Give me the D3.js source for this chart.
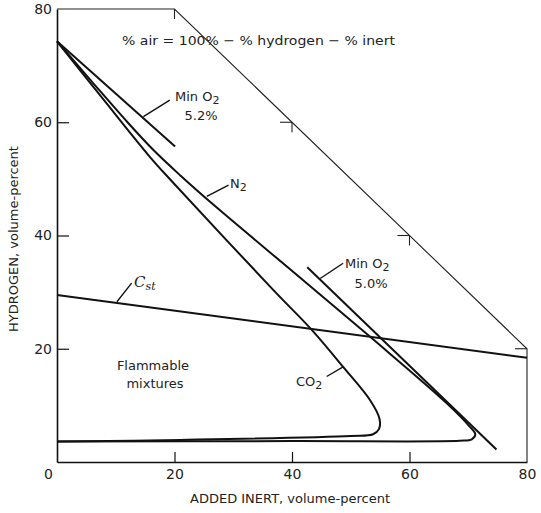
<!DOCTYPE html>
<html>
<head>
<meta charset="utf-8">
<script src="https://cdn.jsdelivr.net/npm/d3@7"></script>
<style>
  body { margin: 0; background: #fff; }
  svg { display: block; font-family: "DejaVu Sans", sans-serif; }
</style>
</head>
<body>
<svg id="chart" width="541" height="513"></svg>
<script>

// valores (inerte %, hidrogeno %)
var curvaN2 = [[0,74.3],[6,67.1],[12,60.0],[16.5,55.0],[21,50.6],[26,46.0],[41.9,32.1],[53.3,22.1],
  [66.3,10.4],[70.2,6.3],[71.2,4.9],[70.6,4.0],[68.5,3.75],[40,3.7],[0,3.6]];
var curvaCO2 = [[0,74.3],[8,63.9],[15.8,53.9],[19.7,49.4],[36.8,30.4],[43.4,23.3],[48.7,16.8],
  [53.3,10.9],[54.9,7.6],[54.8,5.8],[53.8,4.9],[50,4.6],[21,3.9],[0,3.6]];
var minO2_52 = [[0,74.3],[20.1,55.7]];
var minO2_50 = [[42.6,34.4],[74.8,2.2]];
var lineaCst = [[0,29.5],[80,18.4]];
var limiteAire = [[0,80],[20,80],[80,20],[80,0]];
var marcasLimite = [[20,80],[40,60],[60,40],[80,20]];

var ticksX = [0,20,40,60,80];
var ticksY = [20,40,60,80];

var svg = d3.select('#chart');

var x = d3.scaleLinear().domain([0,80]).range([57,527]);
var y = d3.scaleLinear().domain([0,80]).range([462,9]);

var linea = d3.line()
  .x(function(d){ return x(d[0]); })
  .y(function(d){ return y(d[1]); });

var curva = d3.line()
  .x(function(d){ return x(d[0]); })
  .y(function(d){ return y(d[1]); })
  .curve(d3.curveCatmullRom.alpha(0.5));

// limite % aire = 0
svg.append('path')
  .attr('d', linea(limiteAire))
  .attr('fill', 'none')
  .attr('stroke', '#222')
  .attr('stroke-width', 1.1);

// marcas sobre el limite (hacia adentro)
svg.selectAll('g.marca').data(marcasLimite).enter().append('g')
  .attr('class','marca')
  .each(function(d){
    var g = d3.select(this);
    if (d[1] < 80) {
      g.append('line')
        .attr('x1', x(d[0]) - 12).attr('x2', x(d[0]))
        .attr('y1', y(d[1])).attr('y2', y(d[1]));
    }
    if (d[0] < 80) {
      g.append('line')
        .attr('x1', x(d[0])).attr('x2', x(d[0]))
        .attr('y1', y(d[1])).attr('y2', y(d[1]) + 10);
    }
  })
  .attr('stroke', '#222')
  .attr('stroke-width', 1.1);

// ejes
var ejeX = svg.append('g')
  .attr('transform', 'translate(0,' + y(0) + ')')
  .call(d3.axisBottom(x).tickValues(ticksX).tickSize(-10).tickSizeOuter(0).tickPadding(7));

var ejeY = svg.append('g')
  .attr('transform', 'translate(' + x(0) + ',0)')
  .call(d3.axisLeft(y).tickValues(ticksY).tickSize(-12).tickSizeOuter(0).tickPadding(5));

[ejeX, ejeY].forEach(function(eje){
  eje.select('.domain').attr('stroke', '#111').attr('stroke-width', 1.6);
  eje.selectAll('.tick line').attr('stroke', '#111').attr('stroke-width', 1.2);
  eje.selectAll('.tick text')
    .attr('font-size', 14)
    .attr('fill', '#222')
    .attr('font-family', '"DejaVu Sans", sans-serif');
});

ejeX.selectAll('.tick').filter(function(d){ return d === 0 || d === 80; })
  .select('line').remove();
ejeX.selectAll('.tick').filter(function(d){ return d === 0; })
  .select('text').attr('dx', -9);
ejeY.selectAll('.tick').filter(function(d){ return d === 80; })
  .select('line').remove();

// curvas
svg.append('path')
  .attr('d', curva(curvaN2))
  .attr('fill', 'none').attr('stroke', '#111').attr('stroke-width', 2);

svg.append('path')
  .attr('d', curva(curvaCO2))
  .attr('fill', 'none').attr('stroke', '#111').attr('stroke-width', 2);

[minO2_52, minO2_50, lineaCst].forEach(function(l){
  svg.append('path')
    .attr('d', linea(l))
    .attr('fill', 'none').attr('stroke', '#111').attr('stroke-width', 2);
});

// lineas de referencia de las etiquetas
var guias = [
  [[14.7,61.0],[19.2,63.9]],
  [[44.8,32.4],[48.7,35.1]],
  [[25.5,46.9],[29.2,48.9]],
  [[48.7,16.8],[45.9,15.1]],
  [[10.2,28.3],[12.7,31.6]]
];
svg.selectAll('path.guia').data(guias).enter().append('path')
  .attr('class','guia')
  .attr('d', function(d){ return linea(d); })
  .attr('stroke', '#111')
  .attr('stroke-width', 1.4)
  .attr('fill', 'none');

function etiqueta(px, py, partes, anchor, size){
  var t = svg.append('text')
    .attr('x', px).attr('y', py)
    .attr('font-size', size || 13)
    .attr('fill', '#222')
    .attr('text-anchor', anchor || 'start');
  partes.forEach(function(p){
    if (p.sub) {
      t.append('tspan').attr('font-size', 11).attr('dy', 3).text(p.t);
    } else {
      t.append('tspan').attr('dy', 0).text(p.t);
    }
  });
  return t;
}

etiqueta(175, 101, [{t:'Min O'},{t:'2', sub:true}]);
etiqueta(201, 120, [{t:'5.2%'}], 'middle');
etiqueta(345, 268, [{t:'Min O'},{t:'2', sub:true}]);
etiqueta(371, 288, [{t:'5.0%'}], 'middle');
etiqueta(230, 188, [{t:'N'},{t:'2', sub:true}]);
etiqueta(296, 386, [{t:'CO'},{t:'2', sub:true}]);
etiqueta(153, 370, [{t:'Flammable'}], 'middle');
etiqueta(155, 388, [{t:'mixtures'}], 'middle');

var cst = svg.append('text')
  .attr('x', 134).attr('y', 287)
  .attr('font-size', 15)
  .attr('font-style', 'italic')
  .attr('font-family', '"DejaVu Serif", serif')
  .attr('fill', '#222');
cst.append('tspan').text('C');
cst.append('tspan').attr('font-size', 11).attr('dy', 3).text('st');

svg.append('text')
  .attr('x', 122).attr('y', 45)
  .attr('font-size', 13)
  .attr('fill', '#222')
  .attr('textLength', 273)
  .attr('lengthAdjust', 'spacingAndGlyphs')
  .text('% air = 100% \u2212 % hydrogen \u2212 % inert');

// titulos de ejes
svg.append('text')
  .attr('x', 290).attr('y', 503)
  .attr('font-size', 13)
  .attr('fill', '#222')
  .attr('text-anchor', 'middle')
  .text('ADDED INERT, volume-percent');

svg.append('text')
  .attr('transform', 'translate(18,239) rotate(-90)')
  .attr('font-size', 13)
  .attr('fill', '#222')
  .attr('text-anchor', 'middle')
  .text('HYDROGEN, volume-percent');

</script>
</body>
</html>
